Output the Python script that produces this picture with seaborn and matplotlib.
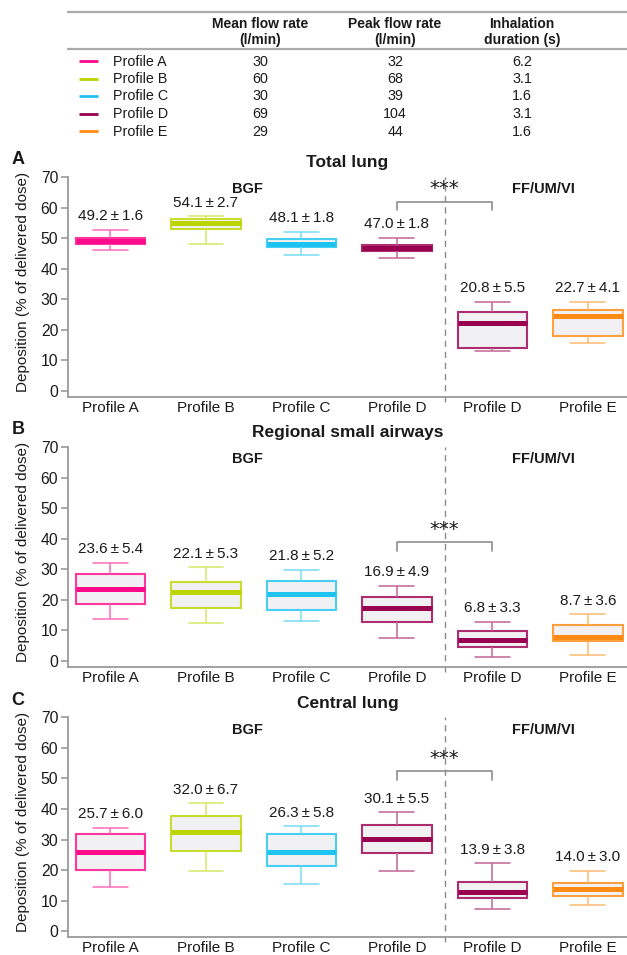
import matplotlib
matplotlib.use("Agg")
import matplotlib.pyplot as plt
import seaborn as sns
import pandas as pd
import numpy as np
from matplotlib.colors import to_rgb

sns.set_theme(style="white")
plt.rcParams['font.family'] = ['Liberation Sans', 'DejaVu Sans']

# ---------------- data ----------------
PROFILES = ["Profile A", "Profile B", "Profile C", "Profile D", "Profile E"]
MEAN_FLOW = ["30", "60", "30", "69", "29"]
PEAK_FLOW = ["32", "68", "39", "104", "44"]
DURATION = ["6.2", "3.1", "1.6", "3.1", "1.6"]
PROFILE_COLORS = ["#ff0a8a", "#bcd400", "#1ec3f0", "#9a0050", "#ff8a14"]

SLOT_LABELS = ["Profile A", "Profile B", "Profile C", "Profile D", "Profile D", "Profile E"]
SLOT_PROFILE = [0, 1, 2, 3, 3, 4]
GROUPS = ["BGF", "FF/UM/VI"]

PANEL_LETTERS = ["A", "B", "C"]
PANEL_TITLES = ["Total lung", "Regional small airways", "Central lung"]

# Total lung
TOTAL_MIN = [46.0, 48.0, 44.4, 43.5, 13.0, 15.6]
TOTAL_Q1 = [48.1, 52.9, 47.0, 45.7, 14.0, 17.8]
TOTAL_MED = [49.1, 55.0, 48.2, 46.9, 22.2, 24.4]
TOTAL_Q3 = [50.1, 56.3, 49.6, 47.9, 25.8, 26.5]
TOTAL_MAX = [52.8, 57.1, 52.0, 50.1, 29.1, 29.1]
TOTAL_MEAN = [49.2, 54.1, 48.1, 47.0, 20.8, 22.7]
TOTAL_SD = [1.6, 2.7, 1.8, 1.8, 5.5, 4.1]

# Regional small airways
SMALL_MIN = [13.6, 12.5, 13.0, 7.4, 1.2, 2.0]
SMALL_Q1 = [18.6, 17.4, 16.5, 12.6, 4.6, 6.5]
SMALL_MED = [23.6, 22.6, 22.0, 17.2, 6.7, 7.9]
SMALL_Q3 = [28.4, 25.8, 26.2, 21.0, 9.8, 11.9]
SMALL_MAX = [32.2, 30.6, 29.9, 24.6, 12.8, 15.3]
SMALL_MEAN = [23.6, 22.1, 21.8, 16.9, 6.8, 8.7]
SMALL_SD = [5.4, 5.3, 5.2, 4.9, 3.3, 3.6]

# Central lung
CENTRAL_MIN = [14.6, 19.7, 15.6, 19.8, 7.2, 8.7]
CENTRAL_Q1 = [20.0, 26.1, 21.3, 25.6, 10.9, 11.4]
CENTRAL_MED = [25.8, 32.6, 26.0, 30.2, 12.9, 13.7]
CENTRAL_Q3 = [31.8, 37.8, 31.9, 34.6, 16.1, 15.9]
CENTRAL_MAX = [33.9, 41.8, 34.4, 38.9, 22.2, 19.7]
CENTRAL_MEAN = [25.7, 32.0, 26.3, 30.1, 13.9, 14.0]
CENTRAL_SD = [6.0, 6.7, 5.8, 5.5, 3.8, 3.0]

SIGNIF = "***"
BRACKET_LEVEL = [61.9, 38.9, 52.4]

PANELS = [
    (TOTAL_MIN, TOTAL_Q1, TOTAL_MED, TOTAL_Q3, TOTAL_MAX, TOTAL_MEAN, TOTAL_SD),
    (SMALL_MIN, SMALL_Q1, SMALL_MED, SMALL_Q3, SMALL_MAX, SMALL_MEAN, SMALL_SD),
    (CENTRAL_MIN, CENTRAL_Q1, CENTRAL_MED, CENTRAL_Q3, CENTRAL_MAX, CENTRAL_MEAN, CENTRAL_SD),
]

# ---------------- styling helpers ----------------
W, H = 627, 955
BOX_FACE = "#f1f1f4"
GRAY = "#8e8e8e"
TXT = "#1a1a1a"


def mix(c, f):
    r = np.array(to_rgb(c))
    return tuple(r + (1 - r) * f)


fig = plt.figure(figsize=(W / 100, H / 100), dpi=100)

# ---------------- table ----------------
tab = fig.add_axes([0, 1 - 140 / H, 1, 140 / H])
tab.set_xlim(0, W)
tab.set_ylim(140, 0)
tab.axis("off")
tab.plot([67, W], [12, 12], color="#ababab", lw=1.6, solid_capstyle="butt")
tab.plot([67, W], [49.5, 49.5], color="#ababab", lw=1.6, solid_capstyle="butt")
col_x = [260, 395, 522]
headers = [("Mean flow rate", "(l/min)"), ("Peak flow rate", "(l/min)"),
           ("Inhalation", "duration (s)")]
for cx, (h1, h2) in zip(col_x, headers):
    tab.text(cx, 23.5, h1, ha="center", va="center", fontsize=10, fontweight="bold", color=TXT)
    tab.text(cx, 40, h2, ha="center", va="center", fontsize=10, fontweight="bold", color=TXT)
row_y = [61.5, 79, 96.5, 114, 131.5]
for i, name in enumerate(PROFILES):
    y = row_y[i]
    tab.plot([79, 98], [y, y], color=PROFILE_COLORS[i], lw=2, solid_capstyle="butt")
    tab.text(113, y, name, ha="left", va="center", fontsize=10.3, color=TXT)
    tab.text(col_x[0], y, MEAN_FLOW[i], ha="center", va="center", fontsize=10.3, color=TXT)
    tab.text(col_x[1], y, PEAK_FLOW[i], ha="center", va="center", fontsize=10.3, color=TXT)
    tab.text(col_x[2], y, DURATION[i], ha="center", va="center", fontsize=10.3, color=TXT)

# ---------------- panels ----------------
slot_keys = [str(i) for i in range(len(SLOT_LABELS))]
panel_tops = [177, 447, 717.3]
ax_h = 220
for p, (mn, q1, md, q3, mx, mean, sd) in enumerate(PANELS):
    rows = []
    for i in range(len(SLOT_LABELS)):
        for v in (mn[i], q1[i], md[i], q3[i], mx[i]):
            rows.append({"slot": slot_keys[i], "value": v})
    df = pd.DataFrame(rows)

    top = panel_tops[p]
    ax = fig.add_axes([68 / W, 1 - (top + ax_h) / H, (W - 68) / W, ax_h / H])
    for i, key in enumerate(slot_keys):
        col = PROFILE_COLORS[SLOT_PROFILE[i]]
        edge = mix(col, 0.18)
        light = mix(col, 0.4)
        sns.boxplot(
            data=df[df["slot"] == key], x="slot", y="value", order=slot_keys, ax=ax,
            whis=(0, 100), width=0.73, fill=True, color=col, linecolor=col,
            showfliers=False,
            boxprops=dict(facecolor=BOX_FACE, edgecolor=edge, linewidth=1.5),
            medianprops=dict(color=col, linewidth=3.6, solid_capstyle="butt"),
            whiskerprops=dict(color=light, linewidth=1.1),
            capprops=dict(color=light, linewidth=1.1),
        )
        ax.annotate(f"{mean[i]:.1f}\u2009\u00b1\u2009{sd[i]:.1f}", xy=(i, mx[i]),
                    xytext=(0, 13.5), textcoords="offset pixels", ha="center",
                    va="center", fontsize=11, color=TXT)

    ax.set_xlim(-0.445, 5.41)
    ax.set_ylim(-2, 70)
    ax.set_yticks(range(0, 71, 10))
    ax.set_xticks(range(len(SLOT_LABELS)))
    ax.set_xticklabels(SLOT_LABELS)
    ax.set_xlabel("")
    ax.set_ylabel("")
    for s in ("top", "right"):
        ax.spines[s].set_visible(False)
    for s in ("left", "bottom"):
        ax.spines[s].set_color("#9a9a9a")
        ax.spines[s].set_linewidth(1.3)
    ax.tick_params(axis="y", length=5, width=1.2, color="#9a9a9a", labelsize=11.3,
                   labelcolor=TXT, pad=2, left=True)
    ax.tick_params(axis="x", length=0, labelsize=11, labelcolor=TXT, pad=3)

    # separator
    ax.plot([3.5, 3.5], [-3.5, 70], color="#8a8a8a", lw=1.0, ls=(0, (4.5, 3.5)),
            clip_on=False, zorder=1)
    # group labels
    ax.text(1.43, 66, GROUPS[0], ha="center", va="center", fontsize=10.5,
            fontweight="bold", color=TXT)
    ax.text(4.53, 66, GROUPS[1], ha="center", va="center", fontsize=10.5,
            fontweight="bold", color=TXT)
    # significance bracket
    b = BRACKET_LEVEL[p]
    ax.plot([3, 3, 4, 4], [b - 2.8, b, b, b - 2.8], color=GRAY, lw=1.2, zorder=3)
    ax.text(3.5, b + 4.2, SIGNIF, ha="center", va="center", fontsize=14,
            family=["DejaVu Sans"], color=TXT)

    # titles and panel letter
    fig.text((68 + W) / 2 / W, 1 - (top - 14) / H, PANEL_TITLES[p], ha="center",
             va="center", fontsize=12.5, fontweight="bold", color=TXT)
    fig.text(18 / W, 1 - (top - 17) / H, PANEL_LETTERS[p], ha="center", va="center",
             fontsize=13, fontweight="bold", color=TXT)
    fig.text(23 / W, 1 - (top + 105) / H, "Deposition (% of delivered dose)",
             rotation=90, ha="center", va="center", fontsize=11, color=TXT)

fig.savefig("out.png", dpi=100)
